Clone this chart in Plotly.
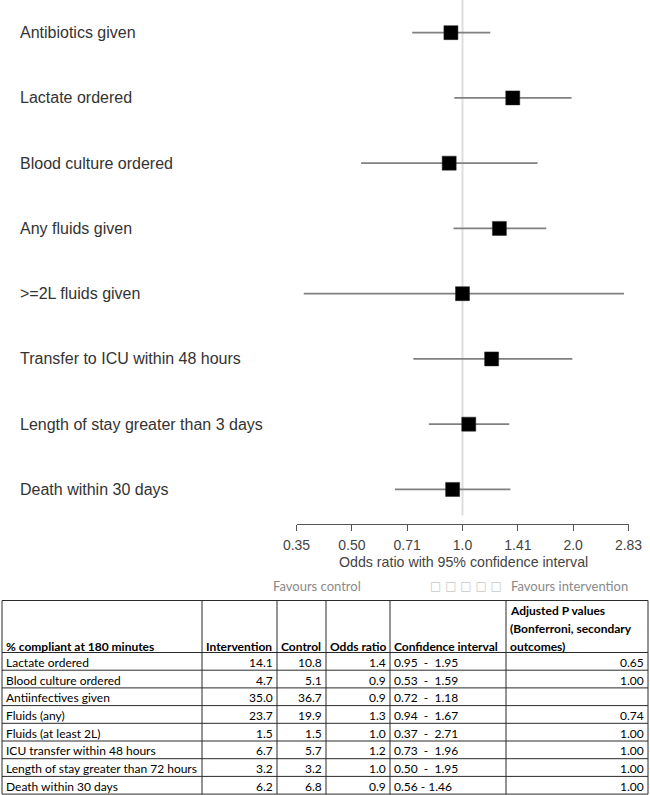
import math
import plotly.graph_objects as go

# ---------------- forest plot data ----------------
outcomes = [
    "Antibiotics given",
    "Lactate ordered",
    "Blood culture ordered",
    "Any fluids given",
    ">=2L fluids given",
    "Transfer to ICU within 48 hours",
    "Length of stay greater than 3 days",
    "Death within 30 days",
]
odds_ratios = [0.93, 1.37, 0.92, 1.26, 1.00, 1.20, 1.04, 0.94]
ci_lower = [0.73, 0.95, 0.53, 0.945, 0.37, 0.735, 0.81, 0.655]
ci_upper = [1.19, 1.98, 1.60, 1.69, 2.75, 1.99, 1.34, 1.35]

tick_values = [2 ** -1.5, 2 ** -1, 2 ** -0.5, 1.0, 2 ** 0.5, 2.0, 2 ** 1.5]
tick_labels = ["0.35", "0.50", "0.71", "1.0", "1.41", "2.0", "2.83"]

# ---------------- table data ----------------
table_header = [
    ["% compliant at 180 minutes"],
    ["Intervention"],
    ["Control"],
    ["Odds ratio"],
    ["Confidence interval"],
    ["Adjusted P values", "(Bonferroni, secondary", "outcomes)"],
]
table_items = [
    "Lactate ordered",
    "Blood culture ordered",
    "Antiinfectives given",
    "Fluids (any)",
    "Fluids (at least 2L)",
    "ICU transfer within 48 hours",
    "Length of stay greater than 72 hours",
    "Death within 30 days",
]
intervention_pct = ["14.1", "4.7", "35.0", "23.7", "1.5", "6.7", "3.2", "6.2"]
control_pct = ["10.8", "5.1", "36.7", "19.9", "1.5", "5.7", "3.2", "6.8"]
table_or = ["1.4", "0.9", "0.9", "1.3", "1.0", "1.2", "1.0", "0.9"]
table_ci = ["0.95  -  1.95", "0.53  -  1.59", "0.72  -  1.18", "0.94  -  1.67",
            "0.37  -  2.71", "0.73  -  1.96", "0.50  -  1.95", "0.56 - 1.46"]
adj_p = ["0.65", "1.00", "", "0.74", "1.00", "1.00", "1.00", "1.00"]

W, H = 650, 795
rows = list(range(1, len(outcomes) + 1))


def px(x):
    return x / W


def py(y):
    return 1 - y / H


fig = go.Figure()

# reference line at OR = 1
fig.add_trace(go.Scatter(
    x=[1.0, 1.0], y=[0.4, 8.4], mode="lines",
    line=dict(color="#dedede", width=2), hoverinfo="skip", showlegend=False))

# confidence interval lines
ci_x, ci_y = [], []
for lo, hi, r in zip(ci_lower, ci_upper, rows):
    ci_x += [lo, hi, None]
    ci_y += [r, r, None]
fig.add_trace(go.Scatter(
    x=ci_x, y=ci_y, mode="lines",
    line=dict(color="#808080", width=1.7), hoverinfo="skip", showlegend=False))

# point estimates
fig.add_trace(go.Scatter(
    x=odds_ratios, y=rows, mode="markers",
    marker=dict(symbol="square", size=14, color="black",
                line=dict(color="#222", width=0.5)),
    showlegend=False))

# row labels
for name, r in zip(outcomes, rows):
    fig.add_annotation(x=px(18), xref="paper", y=r, yref="y", text=name,
                       showarrow=False, xanchor="left", yanchor="middle",
                       font=dict(family="Liberation Sans, Arial", size=16, color="#333"))

# axis title
fig.add_annotation(x=px(463), xref="paper", y=py(562), yref="paper",
                   text="Odds ratio with 95% confidence interval", showarrow=False,
                   xanchor="center", yanchor="middle",
                   font=dict(family="Liberation Sans, Arial", size=14.2, color="#444"))

# favours line
fav_font = dict(family="Lato, Carlito, sans-serif", size=13, color="#8a8a8a")
fig.add_annotation(x=px(270.5), xref="paper", y=py(586), yref="paper",
                   text="Favours control", showarrow=False, xanchor="left",
                   yanchor="middle", font=fav_font)
fig.add_annotation(x=px(428), xref="paper", y=py(586), yref="paper",
                   text="□ □ □ □ □", showarrow=False, xanchor="left",
                   yanchor="middle",
                   font=dict(family="DejaVu Sans", size=12, color="#c8c8c8"))
fig.add_annotation(x=px(508.5), xref="paper", y=py(586), yref="paper",
                   text="Favours intervention", showarrow=False, xanchor="left",
                   yanchor="middle", font=fav_font)

# ---------------- table (grid + text) ----------------
col_edges = [2, 202, 277, 326, 390, 506, 648]
col_align = ["left", "right", "right", "right", "left", "right"]
tbl_top, hdr_bottom, row_h = 600.5, 652.5, 17.7
n_rows = len(table_items)
tbl_bottom = hdr_bottom + n_rows * row_h
grid = dict(color="#2a2a2a", width=1)

for xe in col_edges:
    fig.add_shape(type="line", xref="paper", yref="paper",
                  x0=px(xe), x1=px(xe), y0=py(tbl_top), y1=py(tbl_bottom), line=grid)
for ye in [tbl_top, hdr_bottom] + [hdr_bottom + (i + 1) * row_h for i in range(n_rows)]:
    fig.add_shape(type="line", xref="paper", yref="paper",
                  x0=px(col_edges[0]), x1=px(col_edges[-1]), y0=py(ye), y1=py(ye), line=grid)

hdr_font = dict(family="Lato, Carlito, sans-serif", size=12, color="black", weight="bold")
cell_font = dict(family="Lato, Carlito, sans-serif", size=12, color="black")

for c, lines in enumerate(table_header):
    for k, line in enumerate(reversed(lines)):
        fig.add_annotation(x=px(col_edges[c] + 1.5), xref="paper",
                           y=py(646.5 - 18 * k), yref="paper", text=line,
                           showarrow=False, xanchor="left", yanchor="middle",
                           font=hdr_font)

columns = [table_items, intervention_pct, control_pct, table_or, table_ci, adj_p]
for c, col in enumerate(columns):
    for i, val in enumerate(col):
        if not val:
            continue
        yc = hdr_bottom + (i + 0.5) * row_h + 1
        if col_align[c] == "left":
            xpos, anchor = col_edges[c] + 1.5, "left"
        else:
            xpos, anchor = col_edges[c + 1] - 2.5, "right"
        fig.add_annotation(x=px(xpos), xref="paper", y=py(yc), yref="paper",
                           text=val, showarrow=False, xanchor=anchor,
                           yanchor="middle", font=cell_font)

fig.update_layout(
    template="none",
    width=W, height=H,
    margin=dict(l=0, r=0, t=0, b=0, pad=0),
    paper_bgcolor="white", plot_bgcolor="white",
    xaxis=dict(
        type="log",
        domain=[px(296.5), px(628.5)],
        range=[math.log10(tick_values[0]), math.log10(tick_values[-1])],
        tickvals=tick_values, ticktext=tick_labels,
        showgrid=False, zeroline=False, automargin=False,
        showline=True, linecolor="#555", linewidth=1,
        ticks="outside", ticklen=6, tickcolor="#555", tickwidth=1,
        tickfont=dict(family="Liberation Sans, Arial", size=14, color="#444"),
        ticklabelstandoff=2,
        anchor="y",
    ),
    yaxis=dict(
        domain=[py(524), 1],
        range=[8.53, 0.5],
        visible=False, automargin=False,
    ),
    showlegend=False,
)

fig.write_html(
    "out.html",
    config={"displayModeBar": False},
    post_script="document.body.style.margin='0';document.body.style.overflow='hidden';",
)
